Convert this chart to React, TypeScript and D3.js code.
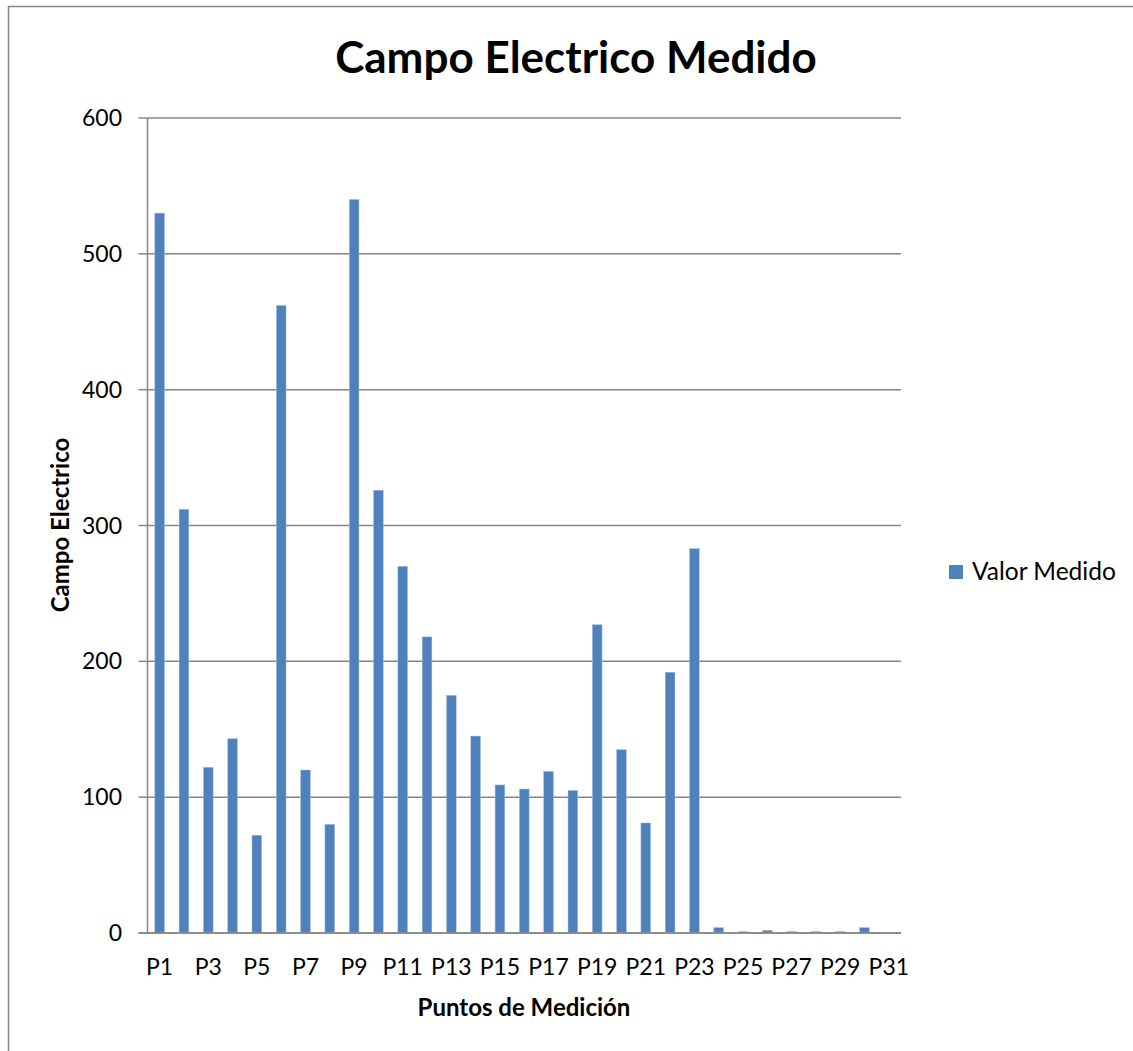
import React from "react";
import * as d3 from "d3";

const categories: string[] = Array.from({ length: 31 }, (_, i) => `P${i + 1}`);
const values: number[] = [
  530, 312, 122, 143, 72, 462, 120, 80, 540, 326, 270, 218, 175, 145, 109, 106,
  119, 105, 227, 135, 81, 192, 283, 4, 1, 2, 1, 1, 1, 4, 0.5,
];
const yTicks: number[] = [0, 100, 200, 300, 400, 500, 600];
const title = "Campo Electrico Medido";
const xTitle = "Puntos de Medición";
const yTitle = "Campo Electrico";
const seriesName = "Valor Medido";

const W = 1133;
const H = 1051;
const left = 147.5;
const right = 901;
const top = 118;
const bottom = 933;
const FONT = "Lato, 'Open Sans', sans-serif";
const BAR = "#4F81BD";
const GRID = "#868686";

export default function App() {
  const x = d3
    .scaleBand<string>()
    .domain(categories)
    .range([left, right])
    .paddingInner(0.6)
    .paddingOuter(0.3);
  const y = d3.scaleLinear().domain([0, 600]).range([bottom, top]);

  return (
    <svg
      width={W}
      height={H}
      style={{ position: "absolute", left: 0, top: 0, background: "#fff" }}
      fontFamily={FONT}
    >
      <rect x={0} y={0} width={W} height={H} fill="#fff" />
      <line x1={8} x2={W} y1={6.5} y2={6.5} stroke="#868686" strokeWidth={1.5} />
      <line x1={8.5} x2={8.5} y1={6} y2={H} stroke="#868686" strokeWidth={1.5} />
      <text x={576} y={73} textAnchor="middle" fontSize={44} fontWeight={700} fill="#000">
        {title}
      </text>
      {yTicks.map((t) => (
        <g key={t}>
          <line x1={left} x2={right} y1={y(t)} y2={y(t)} stroke={GRID} strokeWidth={1.5} />
          <line x1={left - 9} x2={left} y1={y(t)} y2={y(t)} stroke={GRID} strokeWidth={1.5} />
          <text x={122} y={y(t)} dy="0.35em" textAnchor="end" fontSize={23} fill="#000">
            {t}
          </text>
        </g>
      ))}
      <line x1={left} x2={left} y1={top} y2={bottom} stroke={GRID} strokeWidth={1.5} />
      {categories.map((c, i) => (
        <rect
          key={c}
          x={x(c)}
          y={y(values[i])}
          width={x.bandwidth()}
          height={bottom - y(values[i])}
          fill={BAR}
          stroke="#a9c1e0"
          strokeWidth={0.5}
        />
      ))}
      <line x1={left - 9} x2={right} y1={bottom} y2={bottom} stroke={GRID} strokeWidth={1.5} />
      {categories.map((c, i) =>
        i % 2 === 0 ? (
          <text
            key={c}
            x={(x(c) as number) + x.bandwidth() / 2}
            y={975}
            textAnchor="middle"
            fontSize={23}
            fill="#000"
          >
            {c}
          </text>
        ) : null
      )}
      <text x={524} y={1016} textAnchor="middle" fontSize={24} fontWeight={700} fill="#000">
        {xTitle}
      </text>
      <text
        transform={`translate(69,525) rotate(-90)`}
        textAnchor="middle"
        fontSize={24}
        fontWeight={700}
        fill="#000"
      >
        {yTitle}
      </text>
      <rect x={949} y={565} width={14} height={14} fill={BAR} />
      <text x={972} y={580} fontSize={24.5} fill="#000">
        {seriesName}
      </text>
    </svg>
  );
}
